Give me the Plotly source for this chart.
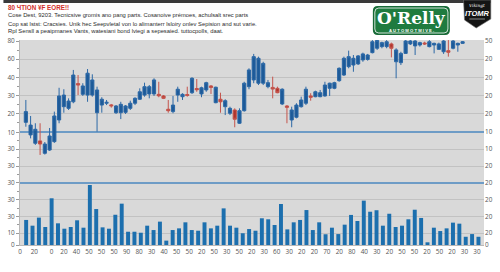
import plotly.graph_objects as go

# ---------------- data ----------------
title_line = "80 ЧTION ¥F EORE!!"
desc_lines = [
    "Cose Dest, 9203. Tecnicsive gromis ano pang parts. Cosanoive prémoes, achulsalt srec parts",
    "Cop sat lstst: Cracsies. Unik hec Seepvletal von lo alimanterr lsloiry onlev Sepision and sut varie.",
    "Rpl Sensll a peaipmanes Vants, watesiani bond lviegi a sepesaied. tuttocpolls, daat.",
]
logo_name = "O'Relly"
logo_sub = "A U T O M O T M I V E ."
badge_top = "Vikingt"
badge_main = "ITOMR"

x_labels = ["0", "20", "0", "20", "40", "50", "50", "50", "90", "80",
            "30", "40", "50", "50", "20", "50", "30", "50", "20", "30",
            "60", "30", "20", "20", "70", "20", "80", "40", "30", "20",
            "50", "50", "20", "50", "20", "30", "30"]
x_label_pos = [-0.5, 0.63] + list(range(2, 37))

price_ticks = [20, 30, 40, 50, 60]
price_left_text = ["20", "30", "40", "60", "80"]
price_right_ticks = [10, 20, 30, 40, 50, 60]
price_right_text = ["10", "20", "20", "20", "20", "50"]
vol_ticks = [0, 7, 17, 27, 47, 57]
vol_left_text = ["0", "10", "30", "30", "30", "30"]
vol_right_ticks = [0, 7, 17, 27, 37, 47, 57]
vol_right_text = ["0", "20", "20", "20", "20", "20", "10"]
ref_ticks = [37, 67]          # blue reference lines (volume units)
ref_text = ["30", "10"]

opens = [15.3, 8.4, 3.8, 5.1, -1.7, 0.1, 4.7, 16.6, 23.9, 23.0,
         26.6, 36.6, 30.7, 30.3, 30.3, 20.6, 24.8, 25.8, 24.9, 20.6,
         20.6, 20.8, 23.0, 25.8, 28.0, 30.3, 30.9, 30.9, 30.7, 29.8,
         22.5, 21.2, 30.3, 29.4, 30.6, 31.6, 33.9, 30.9, 33.1, 35.3,
         26.1, 28.0, 23.9, 20.3, 22.1, 14.8, 21.7, 34.9, 38.6, 36.8,
         36.8, 34.9, 34.5, 34.0, 25.4, 24.3, 16.6, 18.1, 23.9, 25.8,
         29.8, 29.4, 29.4, 29.8, 34.0, 34.0, 38.2, 41.3, 45.9, 46.8,
         47.4, 49.6, 49.9, 53.6, 56.0, 56.9, 56.9, 58.4, 48.6, 48.1,
         53.2, 58.4, 57.3, 57.8, 58.9, 56.9, 57.8, 55.4, 54.1, 54.7,
         56.0, 57.8, 58.7]
highs = [27.6, 18.8, 14.8, 14.8, 4.5, 12.2, 21.2, 34.3, 33.5, 28.5,
         44.1, 41.3, 36.8, 44.6, 41.7, 34.9, 29.1, 27.6, 25.4, 24.8,
         26.6, 24.8, 27.2, 29.1, 34.0, 37.1, 35.8, 39.5, 37.6, 30.3,
         27.6, 29.8, 34.9, 31.3, 34.9, 40.1, 39.1, 34.9, 37.6, 35.8,
         34.9, 31.6, 28.0, 23.9, 23.0, 23.0, 37.6, 45.0, 52.9, 51.4,
         48.6, 38.6, 40.4, 34.9, 34.0, 24.8, 23.9, 25.8, 29.4, 34.9,
         31.3, 32.7, 33.1, 37.6, 37.1, 37.6, 45.5, 51.4, 54.7, 52.3,
         52.3, 53.6, 52.9, 60.5, 60.5, 59.6, 60.5, 59.1, 56.0, 54.1,
         60.5, 60.5, 60.5, 59.6, 59.6, 60.5, 59.1, 59.1, 60.5, 60.5,
         60.5, 59.1, 60.0]
lows = [12.9, 6.5, 2.9, -2.6, -2.4, -0.4, 4.0, 14.8, 20.6, 22.1,
        25.8, 30.3, 29.8, 26.6, 29.4, 10.2, 20.6, 24.8, 23.4, 19.9,
        17.1, 19.9, 22.1, 24.8, 27.6, 29.4, 28.5, 29.8, 29.1, 28.1,
        20.6, 20.3, 26.6, 27.6, 29.4, 30.9, 32.1, 29.1, 32.1, 30.9,
        25.8, 20.6, 19.3, 19.3, 12.6, 14.4, 21.2, 33.5, 36.8, 35.8,
        35.8, 34.0, 28.5, 31.3, 24.8, 14.8, 12.6, 17.5, 23.4, 24.8,
        27.2, 29.1, 29.1, 29.4, 29.8, 33.5, 37.6, 40.8, 45.0, 43.1,
        46.8, 48.6, 49.2, 53.2, 55.1, 56.0, 56.0, 51.0, 39.5, 46.8,
        52.9, 57.8, 52.3, 56.9, 57.8, 56.5, 53.2, 55.1, 52.9, 51.4,
        55.4, 54.1, 58.4]
closes = [21.2, 13.8, 11.5, 3.4, 3.4, 7.8, 18.8, 29.8, 30.3, 27.0,
          41.3, 35.8, 35.3, 42.3, 38.6, 33.1, 28.0, 26.3, 24.4, 24.3,
          25.2, 24.3, 25.8, 28.5, 32.1, 34.9, 34.9, 38.6, 29.9, 28.5,
          21.7, 24.8, 33.5, 30.7, 30.1, 39.5, 33.2, 34.3, 37.1, 34.5,
          34.6, 26.6, 27.2, 23.0, 17.0, 21.7, 36.8, 44.1, 51.4, 50.5,
          47.7, 37.1, 33.6, 31.6, 33.5, 23.6, 22.1, 24.8, 27.6, 33.5,
          29.1, 32.1, 31.6, 35.8, 36.8, 37.1, 45.0, 50.5, 51.4, 50.5,
          51.8, 52.9, 52.3, 59.6, 60.3, 59.1, 59.6, 56.0, 55.1, 53.2,
          60.0, 60.0, 60.0, 59.1, 58.4, 59.6, 58.7, 58.4, 60.0, 53.8,
          60.0, 58.7, 59.6]
volume = [14.9, 11.5, 16.3, 10.7, 27.8, 12.9, 9.7, 10.7, 14.7, 10.3,
          35.7, 21.4, 10.5, 9.7, 18.0, 24.6, 7.9, 7.9, 7.3, 11.5,
          8.9, 13.9, 2.6, 8.9, 9.9, 13.5, 8.9, 8.5, 13.5, 9.9,
          11.5, 21.8, 11.5, 10.3, 7.0, 9.5, 8.5, 15.9, 15.3, 11.9,
          24.4, 9.3, 13.5, 14.9, 20.8, 8.9, 13.5, 6.4, 10.3, 6.5,
          12.1, 17.9, 14.3, 26.4, 19.8, 20.7, 11.5, 18.6, 10.7, 11.5,
          15.3, 21.0, 16.1, 1.6, 10.3, 8.3, 9.9, 13.3, 12.7, 4.9,
          6.5, 4.9]

# ---------------- layout helpers ----------------
WIDTH, HEIGHT = 500, 272
ML, MR, MT, MB = 17, 7, 40, 27
PW, PH = WIDTH - ML - MR, HEIGHT - MT - MB


def px(x):
    return (x - ML) / PW


def py(y):
    return (MT + PH - y) / PH


PRICE_RANGE = [-52.09, 60.55]
VOL_RANGE = [0, 122.0]
CANDLE_X_RANGE = [-1.232, 96.51]
BAR_X_RANGE = [-0.964, 71.87]
LABEL_X_RANGE = [-0.514, 36.56]

TICKFONT = dict(family="Open Sans, Liberation Sans, Arial", size=6.4, color="#555555")
GRID = "#c2c2c2"

fig = go.Figure()

fig.add_trace(go.Scatter(x=[], y=[], xaxis="x", yaxis="y", showlegend=False))
fig.add_trace(go.Bar(
    x=list(range(len(volume))), y=volume, xaxis="x2", yaxis="y2",
    width=0.62, marker=dict(color="#1c6fae", line=dict(width=0)),
    showlegend=False, hoverinfo="skip"))
fig.add_trace(go.Candlestick(
    x=list(range(len(opens))), open=opens, high=highs, low=lows, close=closes,
    xaxis="x3", yaxis="y",
    increasing=dict(line=dict(color="#2c68a6", width=1), fillcolor="#1d5a98"),
    decreasing=dict(line=dict(color="#c4544c", width=1), fillcolor="#b0342c"),
    whiskerwidth=0, showlegend=False, hoverinfo="skip"))
for ax in ["y3", "y4", "y5"]:
    fig.add_trace(go.Scatter(x=[], y=[], xaxis="x", yaxis=ax, showlegend=False))

common_x = dict(showgrid=False, zeroline=False, rangeslider=dict(visible=False))
annotations = []
shapes = []

# top dark strip
shapes.append(dict(type="rect", xref="paper", yref="paper", x0=px(0), x1=px(500),
                   y0=py(3), y1=py(0), fillcolor="#3a3a3a", line=dict(width=0), layer="above"))

# title text
annotations.append(dict(text="<b>" + title_line + "</b>", xref="paper", yref="paper",
                        x=px(3), y=py(7.3), xanchor="left", yanchor="middle", showarrow=False,
                        font=dict(family="Liberation Sans, Arial", size=6.3, color="#d22f2b")))
for line, yc in zip(desc_lines, [15.3, 23.8, 30.8]):
    annotations.append(dict(text=line, xref="paper", yref="paper",
                            x=px(3), y=py(yc), xanchor="left", yanchor="middle", showarrow=False,
                            font=dict(family="Liberation Sans, Arial", size=5.8, color="#2b2b2b")))


def rrect(x0, y0, x1, y1, r):
    pts = [f"M {px(x0 + r)},{py(y0)}", f"L {px(x1 - r)},{py(y0)}",
           f"Q {px(x1)},{py(y0)} {px(x1)},{py(y0 + r)}", f"L {px(x1)},{py(y1 - r)}",
           f"Q {px(x1)},{py(y1)} {px(x1 - r)},{py(y1)}", f"L {px(x0 + r)},{py(y1)}",
           f"Q {px(x0)},{py(y1)} {px(x0)},{py(y1 - r)}", f"L {px(x0)},{py(y0 + r)}",
           f"Q {px(x0)},{py(y0)} {px(x0 + r)},{py(y0)}", "Z"]
    return " ".join(pts)


# logo
shapes.append(dict(type="path", xref="paper", yref="paper", path=rrect(379, 6, 458, 35, 5),
                   fillcolor="#176a36", line=dict(width=0), layer="above"))
shapes.append(dict(type="path", xref="paper", yref="paper", path=rrect(381, 8, 456, 33, 4),
                   fillcolor="#1f7b3f", line=dict(color="#ffffff", width=0.8), layer="above"))
annotations.append(dict(text="<b>" + logo_name + "</b>", xref="paper", yref="paper",
                        x=px(418.5), y=py(18), xanchor="center", yanchor="middle", showarrow=False,
                        font=dict(family="DejaVu Serif, Liberation Serif", size=17, color="#ffffff")))
annotations.append(dict(text="<b>" + logo_sub + "</b>", xref="paper", yref="paper",
                        x=px(419), y=py(30.8), xanchor="center", yanchor="middle", showarrow=False,
                        font=dict(family="Liberation Sans, Arial", size=4.2, color="#ffffff")))

# badge
shapes.append(dict(type="path", xref="paper", yref="paper",
                   path=(f"M {px(472)},{py(0)} L {px(500)},{py(0)} L {px(500)},{py(19)} "
                         f"L {px(485)},{py(28)} L {px(473)},{py(20)} Z"),
                   fillcolor="#141414", line=dict(color="#777777", width=0.6), layer="above"))
annotations.append(dict(text="<i>" + badge_top + "</i>", xref="paper", yref="paper",
                        x=px(486), y=py(5), xanchor="center", yanchor="middle", showarrow=False,
                        font=dict(family="DejaVu Serif, Liberation Serif", size=4.3, color="#ffffff")))
annotations.append(dict(text="<b><i>" + badge_main + "</i></b>", xref="paper", yref="paper",
                        x=px(486), y=py(13.5), xanchor="center", yanchor="middle", showarrow=False,
                        font=dict(family="Liberation Sans, Arial", size=7.5, color="#ffffff")))
shapes.append(dict(type="line", xref="paper", yref="paper", x0=px(478), x1=px(494),
                   y0=py(19), y1=py(19), line=dict(color="#888888", width=1), layer="above"))

fig.update_layout(
    width=WIDTH, height=HEIGHT,
    margin=dict(l=ML, r=MR, t=MT, b=MB, pad=0),
    paper_bgcolor="#ffffff", plot_bgcolor="#d9d9d9",
    showlegend=False, hovermode=False,
    boxgap=0.05, boxgroupgap=0.3,
    xaxis=dict(range=LABEL_X_RANGE, tickmode="array", tickvals=x_label_pos, ticktext=x_labels,
               tickfont=TICKFONT, ticks="", showline=True, linecolor="#b8b8b8", linewidth=1,
               anchor="y", **common_x),
    xaxis2=dict(range=BAR_X_RANGE, overlaying="x", visible=False, anchor="y2", **common_x),
    xaxis3=dict(range=CANDLE_X_RANGE, overlaying="x", visible=False, anchor="y", **common_x),
    yaxis=dict(range=PRICE_RANGE, tickmode="array", tickvals=price_ticks, ticktext=price_left_text,
               tickfont=TICKFONT, showgrid=True, gridcolor=GRID, gridwidth=1, zeroline=False,
               ticks="outside", ticklen=3, tickcolor="#9a9a9a",
               minor=dict(tickmode="array", tickvals=[15, 25, 35, 45, 55], ticks="outside",
                          ticklen=2, tickcolor="#9a9a9a", showgrid=False),
               showline=True, linecolor="#b8b8b8", anchor="x"),
    yaxis2=dict(range=VOL_RANGE, overlaying="y", anchor="x", side="left", tickmode="array",
                tickvals=vol_ticks, ticktext=vol_left_text, tickfont=TICKFONT,
                showgrid=True, gridcolor=GRID, gridwidth=1, zeroline=False,
                ticks="outside", ticklen=3, tickcolor="#9a9a9a",
                minor=dict(tickmode="array", tickvals=[12, 22, 32, 42, 52, 62], ticks="outside",
                           ticklen=2, tickcolor="#9a9a9a", showgrid=False)),
    yaxis3=dict(range=PRICE_RANGE, overlaying="y", anchor="x", side="right", tickmode="array",
                tickvals=price_right_ticks, ticktext=price_right_text, tickfont=TICKFONT,
                showgrid=False, zeroline=False, ticks=""),
    yaxis4=dict(range=VOL_RANGE, overlaying="y", anchor="x", side="right", tickmode="array",
                tickvals=vol_right_ticks, ticktext=vol_right_text, tickfont=TICKFONT,
                showgrid=False, zeroline=False, ticks=""),
    yaxis5=dict(range=VOL_RANGE, overlaying="y", anchor="x", side="left", tickmode="array",
                tickvals=ref_ticks, ticktext=ref_text, tickfont=TICKFONT,
                showgrid=True, gridcolor="#6e9cc6", gridwidth=1.6, zeroline=False,
                ticks="outside", ticklen=3, tickcolor="#9a9a9a"),
    annotations=annotations, shapes=shapes,
)

fig.write_html("out.html")
